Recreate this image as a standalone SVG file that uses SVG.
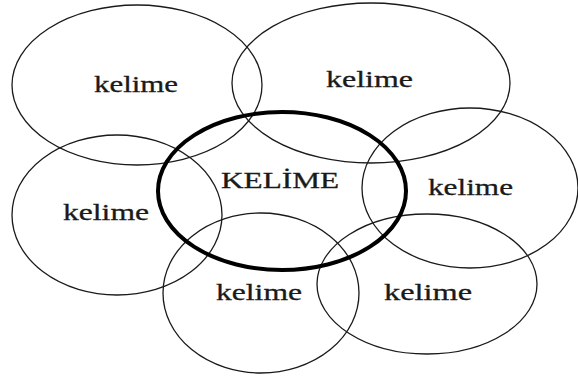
<svg xmlns="http://www.w3.org/2000/svg" width="578" height="383" viewBox="0 0 578 383">
<style>
.e{fill:none;stroke:#1a1a1a;stroke-width:1.3}
.m{fill:none;stroke:#000;stroke-width:4}
text{font-family:"Liberation Serif","Times New Roman",serif;font-size:24px;fill:#1a1a1a;stroke:#1a1a1a;stroke-width:0.3}
</style>
<rect width="578" height="383" fill="#fff"/>
<g id="n1"><ellipse class="e" cx="137" cy="85" rx="125" ry="80"/><text x="94" y="92" textLength="84" lengthAdjust="spacingAndGlyphs">kelime</text></g>
<g id="n2"><ellipse class="e" cx="371" cy="83" rx="139" ry="80"/><text x="326" y="87" textLength="87" lengthAdjust="spacingAndGlyphs">kelime</text></g>
<g id="n3"><ellipse class="e" cx="117" cy="215" rx="105" ry="80"/><text x="63" y="220" textLength="86" lengthAdjust="spacingAndGlyphs">kelime</text></g>
<g id="n4"><ellipse class="e" cx="470" cy="188" rx="108" ry="80"/><text x="428" y="195" textLength="85" lengthAdjust="spacingAndGlyphs">kelime</text></g>
<g id="n5"><ellipse class="e" cx="261" cy="293" rx="98" ry="80"/><text x="216" y="300" textLength="86" lengthAdjust="spacingAndGlyphs">kelime</text></g>
<g id="n6"><ellipse class="e" cx="427" cy="284" rx="110" ry="70"/><text x="384" y="300" textLength="88" lengthAdjust="spacingAndGlyphs">kelime</text></g>
<g id="center"><ellipse class="m" cx="282" cy="191" rx="124" ry="79"/><text x="221" y="188" textLength="118" lengthAdjust="spacingAndGlyphs">KELİME</text></g>
<g id="connectors"></g>
</svg>
